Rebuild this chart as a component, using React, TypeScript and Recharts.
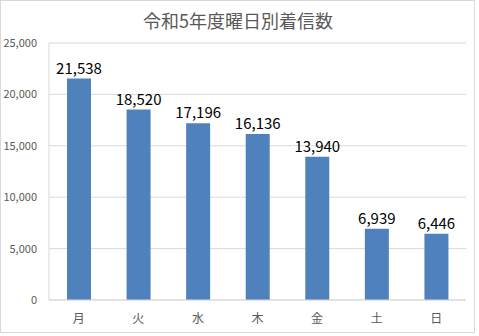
import React from "react";
import { BarChart, Bar, XAxis, YAxis, CartesianGrid, LabelList } from "recharts";

const days = ["月", "火", "水", "木", "金", "土", "日"];
const calls = [21538, 18520, 17196, 16136, 13940, 6939, 6446];
const yTicks = [0, 5000, 10000, 15000, 20000, 25000];

const data = days.map((day, i) => ({ day, calls: calls[i] }));

const FONT = '"Noto Sans CJK JP", "Noto Sans", sans-serif';

export default function App() {
  return (
    <div style={{ position: "fixed", left: 0, top: 0, width: 479, height: 336, background: "#fff", fontFamily: FONT }}>
      <div
        style={{
          position: "absolute",
          left: 0,
          top: 0,
          width: 473,
          height: 331,
          border: "1px solid #d9d9d9",
        }}
      />
      <div
        style={{
          position: "absolute",
          left: 0,
          top: 7,
          width: 476,
          textAlign: "center",
          fontSize: 18,
          color: "#595959",
        }}
      >
        令和5年度曜日別着信数
      </div>
      <BarChart
        width={479}
        height={336}
        data={data}
        margin={{ top: 43, right: 13, bottom: 6, left: 0 }}
      >
        <CartesianGrid vertical={false} stroke="#d9d9d9" />
        <XAxis
          dataKey="day"
          height={30}
          tickLine={false}
          axisLine={{ stroke: "#d9d9d9" }}
          tick={{ fill: "#595959", fontSize: 12, fontFamily: FONT }}
          tickMargin={8}
        />
        <YAxis
          width={49}
          domain={[0, 25000]}
          ticks={yTicks}
          tickLine={false}
          axisLine={{ stroke: "#d9d9d9" }}
          tick={{ fill: "#595959", fontSize: 11, fontFamily: FONT }}
          tickFormatter={(v: number) => v.toLocaleString("en-US")}
          tickMargin={6}
        />
        <Bar dataKey="calls" fill="#4f81bd" barSize={24} isAnimationActive={false}>
          <LabelList
            dataKey="calls"
            position="top"
            offset={5}
            fill="#000"
            fontSize={15}
            fontFamily={FONT}
            formatter={(v: number) => v.toLocaleString("en-US")}
          />
        </Bar>
      </BarChart>
    </div>
  );
}
